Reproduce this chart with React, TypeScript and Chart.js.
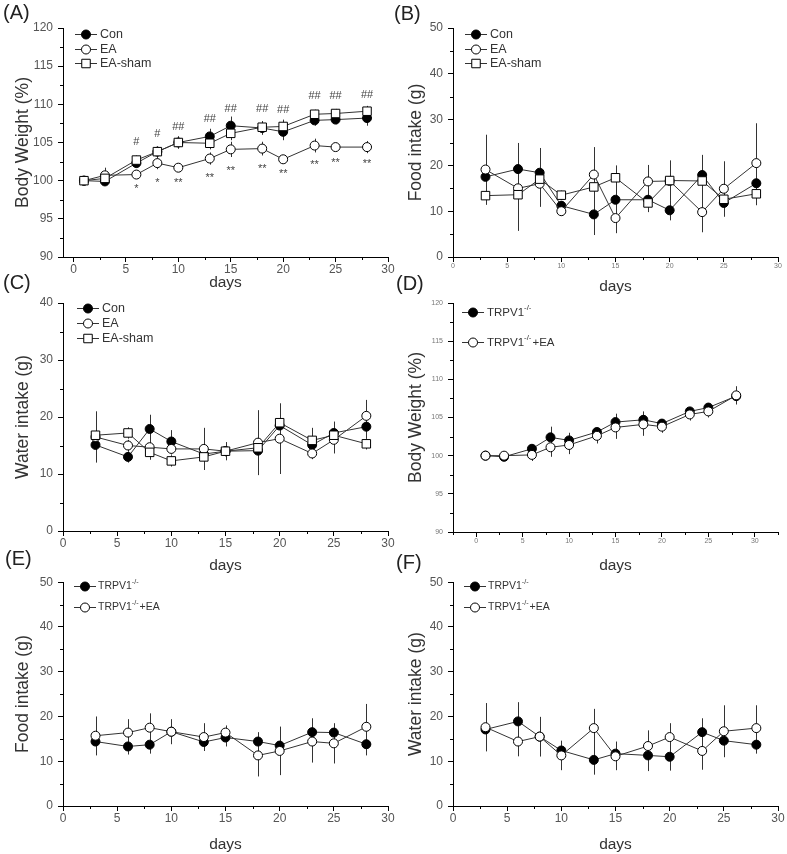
import React, { useEffect, useRef } from 'react';
import { Chart, registerables } from 'chart.js';
Chart.register(...registerables);

const FONT = '"Liberation Sans", Arial, Helvetica, sans-serif';

// ---------- data ----------
const daysBW = [1, 3, 6, 8, 10, 13, 15, 18, 20, 23, 25, 28];
const daysIntake = [3, 6, 8, 10, 13, 15, 18, 20, 23, 25, 28];
const xTicks30 = [0, 5, 10, 15, 20, 25, 30];
const yTicksBW = [90, 95, 100, 105, 110, 115, 120];
const yTicks50 = [0, 10, 20, 30, 40, 50];
const yTicks40 = [0, 10, 20, 30, 40];

// (A) body weight
const aCon = [100, 99.9, 102.3, 103.8, 105.0, 105.8, 107.2, 106.9, 106.4, 107.9, 108.0, 108.2];
const aConErr = [0, 0.4, 0.6, 0.6, 0.8, 1.0, 1.2, 0.9, 1.1, 0.7, 0.6, 1.0];
const aEA = [100, 100.7, 100.8, 102.3, 101.7, 102.9, 104.1, 104.2, 102.8, 104.6, 104.4, 104.4];
const aEAErr = [0, 1.0, 0.5, 0.8, 0.5, 0.8, 1.0, 0.9, 0.4, 0.9, 0.5, 0.8];
const aSham = [100, 100.3, 102.7, 103.8, 105.0, 104.9, 106.2, 107.0, 107.1, 108.7, 108.8, 109.1];
const aShamErr = [0, 0.5, 0.6, 0.7, 0.8, 0.8, 0.9, 0.8, 0.9, 0.6, 0.6, 0.7];
const aHashDays = [6, 8, 10, 13, 15, 18, 20, 23, 25, 28];
const aHashText = ['#', '#', '##', '##', '##', '##', '##', '##', '##', '##'];
const aHashY = [105.1, 106.1, 107.1, 108.05, 109.4, 109.4, 109.2, 111.1, 111.1, 111.2];
const aStarDays = [6, 8, 10, 13, 15, 18, 20, 23, 25, 28];
const aStarText = ['*', '*', '**', '**', '**', '**', '**', '**', '**', '**'];
const aStarY = [99.3, 100.1, 100.1, 100.7, 101.7, 101.9, 101.3, 102.5, 102.7, 102.6];

// (B) food intake
const bCon = [17.5, 19.2, 18.4, 11.2, 9.3, 12.5, 12.5, 10.2, 17.9, 11.8, 16.1];
const bConErr = [2, 5.7, 5.4, 1, 4.5, 3, 2, 2.2, 4.4, 3, 2];
const bEA = [19.1, 15.0, 16.0, 10.0, 18.0, 8.5, 16.5, 16.6, 9.8, 14.9, 20.5];
const bEAErr = [7.6, 9.3, 5, 1, 6, 3.3, 3.6, 2, 4.4, 6, 8.7];
const bSham = [13.4, 13.6, 17.0, 13.5, 15.3, 17.3, 11.8, 16.7, 16.6, 12.6, 13.8];
const bShamErr = [2, 2, 6, 1, 3, 2.7, 2, 4.4, 2, 2, 2.5];

// (C) water intake
const cCon = [15.1, 13.0, 17.9, 15.7, 13.5, 14.0, 14.1, 18.5, 15.1, 17.2, 18.3];
const cConErr = [3, 1, 2.5, 2, 1, 1.5, 1, 3.8, 1, 2, 2];
const cEA = [16.5, 15.0, 14.7, 14.4, 14.4, 14.0, 15.5, 16.2, 13.6, 16.0, 20.2];
const cEAErr = [4.5, 1, 1.5, 1, 3.7, 1.6, 5.7, 6.2, 1, 2.4, 2.8];
const cSham = [16.8, 17.2, 13.8, 12.3, 13.0, 14.0, 14.6, 19.0, 15.9, 16.8, 15.3];
const cShamErr = [1, 1, 1.3, 1, 2.3, 1, 1, 1, 2.2, 1, 1];

// (D) TRPV1 body weight
const dKO = [100, 99.85, 100.9, 102.4, 102.0, 103.1, 104.4, 104.7, 104.2, 105.8, 106.3, 107.8];
const dKOErr = [0, 0.3, 0.4, 1.4, 1.0, 0.5, 1.1, 1.1, 0.5, 0.5, 0.5, 1.0];
const dKOEA = [100, 100, 100.1, 101.1, 101.4, 102.6, 103.7, 104.1, 103.8, 105.4, 105.8, 107.9];
const dKOEAErr = [0, 0.2, 0.8, 1.25, 1.2, 1.0, 1.5, 1.5, 0.8, 0.8, 0.8, 1.2];

// (E) TRPV1 food intake
const eKO = [14.4, 13.3, 13.7, 16.6, 14.3, 15.3, 14.4, 13.5, 16.5, 16.4, 13.8];
const eKOErr = [3.1, 1.8, 2, 1.2, 2, 2, 2.1, 4.2, 3.1, 1.9, 2.5];
const eKOEA = [15.7, 16.4, 17.5, 16.6, 15.4, 16.4, 11.3, 12.3, 14.4, 14.0, 17.7];
const eKOEAErr = [4.3, 3, 3.2, 2.8, 3.1, 1.6, 4.7, 5.4, 4.7, 4.5, 5.1];

// (F) TRPV1 water intake
const fKO = [17.1, 18.9, 15.5, 12.4, 10.3, 11.7, 11.3, 11.0, 16.5, 14.6, 13.7];
const fKOErr = [2, 4.3, 4.4, 2.1, 3.3, 2.7, 3.5, 3.1, 3.1, 3.6, 2];
const fKOEA = [17.6, 14.4, 15.5, 11.3, 17.4, 11.1, 13.4, 15.4, 12.3, 16.7, 17.4];
const fKOEAErr = [5.4, 3.3, 4.4, 3.3, 4.3, 3.1, 3.5, 3.1, 4.2, 5.8, 5.1];

const labCon = 'Con';
const labEA = 'EA';
const labSham = 'EA-sham';
const labKO = 'TRPV1^{-/-}';
const labKOEA = 'TRPV1^{-/-}+EA';

// ---------- types ----------
type MStyle = 'filled' | 'open' | 'square';
type Series = { label: string; values: number[]; errors: number[]; style: MStyle };
type Spec = {
  id: string;
  left: number; top: number; w: number; h: number;
  padTop: number; padRight: number; yWidth: number; xHeight: number;
  xMin: number; xMax: number; xTicks: number[]; xMinor: number; xMajor: number;
  yMin: number; yMax: number; yTicks: number[]; yMinor: number; yMajor: number;
  xTickFont: number; yTickFont: number; tickColor: string;
  yTitle: string; days: number[]; series: Series[];
  legend: { x0: number; x1: number; tx: number; rows: number[]; font: number };
  notes?: { x: number; y: number; text: string }[];
};

// ---------- plugins ----------
const errorBarPlugin = {
  id: 'errbars',
  beforeDatasetsDraw(chart: any) {
    const ctx = chart.ctx;
    const ys = chart.scales.y;
    ctx.save();
    ctx.strokeStyle = '#333';
    ctx.lineWidth = 1;
    chart.data.datasets.forEach((ds: any, i: number) => {
      const meta = chart.getDatasetMeta(i);
      meta.data.forEach((pt: any, j: number) => {
        const e = ds.errors ? ds.errors[j] : 0;
        if (!e) return;
        const v = ds.data[j].y;
        const x = Math.round(pt.x) + 0.5;
        ctx.beginPath();
        ctx.moveTo(x, ys.getPixelForValue(v - e));
        ctx.lineTo(x, ys.getPixelForValue(v + e));
        ctx.stroke();
      });
    });
    ctx.restore();
  },
};

const isMultiple = (v: number, m: number) => Math.abs(v / m - Math.round(v / m)) < 1e-6;

const minorTickPlugin = {
  id: 'minorTicks',
  afterDraw(chart: any, _args: any, opts: any) {
    const ctx = chart.ctx;
    const { left, bottom } = chart.chartArea;
    const xs = chart.scales.x;
    const ys = chart.scales.y;
    ctx.save();
    ctx.strokeStyle = '#000';
    ctx.lineWidth = 1;
    for (let v = Math.ceil(xs.min / opts.xMinor) * opts.xMinor; v <= xs.max + 1e-9; v += opts.xMinor) {
      if (isMultiple(v, opts.xMajor)) continue;
      const px = Math.round(xs.getPixelForValue(v)) + 0.5;
      ctx.beginPath();
      ctx.moveTo(px, bottom);
      ctx.lineTo(px, bottom + 3);
      ctx.stroke();
    }
    for (let v = Math.ceil(ys.min / opts.yMinor) * opts.yMinor; v <= ys.max + 1e-9; v += opts.yMinor) {
      if (isMultiple(v, opts.yMajor)) continue;
      const py = Math.round(ys.getPixelForValue(v)) + 0.5;
      ctx.beginPath();
      ctx.moveTo(left, py);
      ctx.lineTo(left - 3, py);
      ctx.stroke();
    }
    ctx.restore();
  },
};

function drawMarker(ctx: CanvasRenderingContext2D, s: MStyle, x: number, y: number) {
  ctx.beginPath();
  if (s === 'square') ctx.rect(x - 4.25, y - 4.25, 8.5, 8.5);
  else ctx.arc(x, y, 4.5, 0, Math.PI * 2);
  ctx.fillStyle = s === 'filled' ? '#000' : '#fff';
  ctx.fill();
  ctx.strokeStyle = '#000';
  ctx.lineWidth = 1;
  ctx.stroke();
}

function drawRichText(ctx: CanvasRenderingContext2D, text: string, x: number, y: number, size: number) {
  const parts = text.split(/\^\{([^}]*)\}/);
  let cx = x;
  parts.forEach((part, k) => {
    if (!part) return;
    const sup = k % 2 === 1;
    const fs = sup ? size * 0.68 : size;
    ctx.font = `${fs}px ${FONT}`;
    ctx.fillText(part, cx, sup ? y - size * 0.38 : y);
    cx += ctx.measureText(part).width + (sup ? 1 : 0);
  });
}

const legendPlugin = {
  id: 'innerLegend',
  afterDraw(chart: any, _args: any, opts: any) {
    const ctx = chart.ctx;
    ctx.save();
    chart.data.datasets.forEach((ds: any, i: number) => {
      const y = opts.rows[i];
      ctx.strokeStyle = '#333';
      ctx.lineWidth = 1;
      ctx.beginPath();
      ctx.moveTo(opts.x0, y + 0.5);
      ctx.lineTo(opts.x1, y + 0.5);
      ctx.stroke();
      drawMarker(ctx, ds.markerStyle, (opts.x0 + opts.x1) / 2, y + 0.5);
      ctx.fillStyle = '#333';
      ctx.textBaseline = 'middle';
      ctx.textAlign = 'left';
      drawRichText(ctx, ds.label, opts.tx, y + 0.5, opts.font);
    });
    ctx.restore();
  },
};

const notesPlugin = {
  id: 'notes',
  afterDatasetsDraw(chart: any, _args: any, opts: any) {
    if (!opts || !opts.items) return;
    const ctx = chart.ctx;
    const xs = chart.scales.x;
    const ys = chart.scales.y;
    ctx.save();
    ctx.fillStyle = '#444';
    ctx.font = `11px ${FONT}`;
    ctx.textAlign = 'center';
    ctx.textBaseline = 'middle';
    opts.items.forEach((it: any) => {
      const star = it.text.indexOf('*') >= 0;
      ctx.fillText(it.text, xs.getPixelForValue(it.x), ys.getPixelForValue(it.y) + (star ? 3 : 0));
    });
    ctx.restore();
  },
};

// ---------- config ----------
function styleFor(s: MStyle) {
  if (s === 'filled') return { pointStyle: 'circle', pointRadius: 4.5, pointBackgroundColor: '#000' };
  if (s === 'open') return { pointStyle: 'circle', pointRadius: 4.5, pointBackgroundColor: '#fff' };
  return { pointStyle: 'rect', pointRadius: 6, pointBackgroundColor: '#fff' };
}

function buildConfig(p: Spec): any {
  const n = p.series.length;
  const datasets = p.series.map((s, i) => ({
    label: s.label,
    data: p.days.map((d, j) => ({ x: d, y: s.values[j] })),
    errors: s.errors,
    markerStyle: s.style,
    borderColor: '#333',
    borderWidth: 1,
    pointBorderColor: '#000',
    pointBorderWidth: 1,
    ...styleFor(s.style),
    order: n - 1 - i,
    tension: 0,
    fill: false,
    clip: false,
  }));
  const axisGrid = { display: true, drawOnChartArea: false, drawTicks: true, tickLength: 5, color: '#000', tickColor: '#000', lineWidth: 1 };
  return {
    type: 'line',
    data: { datasets },
    options: {
      responsive: false,
      animation: false,
      devicePixelRatio: 1,
      events: [],
      layout: { padding: { left: 0, right: p.padRight, top: p.padTop, bottom: 0 } },
      scales: {
        x: {
          type: 'linear',
          min: p.xMin,
          max: p.xMax,
          afterBuildTicks: (s: any) => { s.ticks = p.xTicks.map((v) => ({ value: v })); },
          afterFit: (s: any) => { s.height = p.xHeight; },
          grid: axisGrid,
          border: { display: true, color: '#000', width: 1 },
          ticks: { font: { family: FONT, size: p.xTickFont }, color: p.xTickFont < 9 ? '#777' : p.tickColor, padding: 0, maxRotation: 0, autoSkip: false },
          title: { display: true, text: 'days', font: { family: FONT, size: 15.5 }, color: '#333', padding: { top: 0, bottom: 0 } },
        },
        y: {
          type: 'linear',
          min: p.yMin,
          max: p.yMax,
          afterBuildTicks: (s: any) => { s.ticks = p.yTicks.map((v) => ({ value: v })); },
          afterFit: (s: any) => { s.width = p.yWidth; },
          grid: axisGrid,
          border: { display: true, color: '#000', width: 1 },
          ticks: { font: { family: FONT, size: p.yTickFont }, color: p.yTickFont < 9 ? '#777' : p.tickColor, padding: 5, autoSkip: false },
          title: { display: true, text: p.yTitle, font: { family: FONT, size: 17.5 }, color: '#333', padding: { top: 13, bottom: 0 } },
        },
      },
      plugins: {
        legend: { display: false },
        tooltip: { enabled: false },
        minorTicks: { xMinor: p.xMinor, xMajor: p.xMajor, yMinor: p.yMinor, yMajor: p.yMajor },
        innerLegend: p.legend,
        notes: { items: p.notes || [] },
      },
    },
    plugins: [errorBarPlugin, minorTickPlugin, legendPlugin, notesPlugin],
  };
}

// ---------- panel specs ----------
const notesA = [
  ...aHashDays.map((d, i) => ({ x: d, y: aHashY[i], text: aHashText[i] })),
  ...aStarDays.map((d, i) => ({ x: d, y: aStarY[i], text: aStarText[i] })),
];

const specs: Spec[] = [
  {
    id: 'A', left: 0, top: 0, w: 395, h: 292, padTop: 28, padRight: 7, yWidth: 63, xHeight: 35,
    xMin: -1, xMax: 30, xTicks: xTicks30, xMinor: 2.5, xMajor: 5,
    yMin: 90, yMax: 120, yTicks: yTicksBW, yMinor: 2.5, yMajor: 5,
    xTickFont: 12, yTickFont: 12, tickColor: '#555',
    yTitle: 'Body Weight (%)', days: daysBW,
    series: [
      { label: labCon, values: aCon, errors: aConErr, style: 'filled' },
      { label: labEA, values: aEA, errors: aEAErr, style: 'open' },
      { label: labSham, values: aSham, errors: aShamErr, style: 'square' },
    ],
    legend: { x0: 75, x1: 97, tx: 100, rows: [34, 49, 63], font: 12.5 },
    notes: notesA,
  },
  {
    id: 'B', left: 393, top: 0, w: 394, h: 296, padTop: 28, padRight: 9, yWidth: 60, xHeight: 39,
    xMin: 0, xMax: 30, xTicks: xTicks30, xMinor: 2.5, xMajor: 5,
    yMin: 0, yMax: 50, yTicks: yTicks50, yMinor: 5, yMajor: 10,
    xTickFont: 7, yTickFont: 12, tickColor: '#555',
    yTitle: 'Food intake (g)', days: daysIntake,
    series: [
      { label: labCon, values: bCon, errors: bConErr, style: 'filled' },
      { label: labEA, values: bEA, errors: bEAErr, style: 'open' },
      { label: labSham, values: bSham, errors: bShamErr, style: 'square' },
    ],
    legend: { x0: 72, x1: 94, tx: 97, rows: [34, 49, 63], font: 12.5 },
  },
  {
    id: 'C', left: 0, top: 285, w: 395, h: 290, padTop: 18, padRight: 7, yWidth: 63, xHeight: 44,
    xMin: 0, xMax: 30, xTicks: xTicks30, xMinor: 2.5, xMajor: 5,
    yMin: 0, yMax: 40, yTicks: yTicks40, yMinor: 5, yMajor: 10,
    xTickFont: 12, yTickFont: 12, tickColor: '#555',
    yTitle: 'Water intake (g)', days: daysIntake,
    series: [
      { label: labCon, values: cCon, errors: cConErr, style: 'filled' },
      { label: labEA, values: cEA, errors: cEAErr, style: 'open' },
      { label: labSham, values: cSham, errors: cShamErr, style: 'square' },
    ],
    legend: { x0: 77, x1: 99, tx: 102, rows: [23, 38, 53], font: 12.5 },
  },
  {
    id: 'D', left: 393, top: 285, w: 394, h: 290, padTop: 18, padRight: 9, yWidth: 60, xHeight: 43,
    xMin: -2.5, xMax: 32.5, xTicks: xTicks30, xMinor: 2.5, xMajor: 5,
    yMin: 90, yMax: 120, yTicks: yTicksBW, yMinor: 2.5, yMajor: 5,
    xTickFont: 7, yTickFont: 7, tickColor: '#555',
    yTitle: 'Body Weight (%)', days: daysBW,
    series: [
      { label: labKO, values: dKO, errors: dKOErr, style: 'filled' },
      { label: labKOEA, values: dKOEA, errors: dKOEAErr, style: 'open' },
    ],
    legend: { x0: 69, x1: 91, tx: 94, rows: [27, 57], font: 11.5 },
  },
  {
    id: 'E', left: 0, top: 570, w: 395, h: 284, padTop: 7, padRight: 7, yWidth: 63, xHeight: 48,
    xMin: 0, xMax: 30, xTicks: xTicks30, xMinor: 2.5, xMajor: 5,
    yMin: 0, yMax: 50, yTicks: yTicks50, yMinor: 5, yMajor: 10,
    xTickFont: 12, yTickFont: 12, tickColor: '#555',
    yTitle: 'Food intake (g)', days: daysIntake,
    series: [
      { label: labKO, values: eKO, errors: eKOErr, style: 'filled' },
      { label: labKOEA, values: eKOEA, errors: eKOEAErr, style: 'open' },
    ],
    legend: { x0: 74, x1: 96, tx: 98, rows: [16, 37], font: 10.5 },
  },
  {
    id: 'F', left: 393, top: 570, w: 394, h: 284, padTop: 7, padRight: 9, yWidth: 60, xHeight: 48,
    xMin: 0, xMax: 30, xTicks: xTicks30, xMinor: 2.5, xMajor: 5,
    yMin: 0, yMax: 50, yTicks: yTicks50, yMinor: 5, yMajor: 10,
    xTickFont: 12, yTickFont: 12, tickColor: '#555',
    yTitle: 'Water intake (g)', days: daysIntake,
    series: [
      { label: labKO, values: fKO, errors: fKOErr, style: 'filled' },
      { label: labKOEA, values: fKOEA, errors: fKOEAErr, style: 'open' },
    ],
    legend: { x0: 71, x1: 93, tx: 95, rows: [16, 37], font: 10.5 },
  },
];

const panelLabels = [
  { text: '(A)', left: 3, top: 1 },
  { text: '(B)', left: 394, top: 2 },
  { text: '(C)', left: 3, top: 271 },
  { text: '(D)', left: 396, top: 272 },
  { text: '(E)', left: 5, top: 547 },
  { text: '(F)', left: 396, top: 551 },
];

function Panel({ spec }: { spec: Spec }) {
  const ref = useRef<HTMLCanvasElement>(null);
  useEffect(() => {
    const chart = new Chart(ref.current as HTMLCanvasElement, buildConfig(spec));
    return () => chart.destroy();
  }, [spec]);
  return (
    <canvas
      ref={ref}
      width={spec.w}
      height={spec.h}
      style={{ position: 'absolute', left: spec.left, top: spec.top, width: spec.w, height: spec.h }}
    />
  );
}

export default function App() {
  return (
    <div style={{ position: 'absolute', left: 0, top: 0, width: 787, height: 854, background: '#fff', overflow: 'hidden' }}>
      {specs.map((s) => (
        <Panel key={s.id} spec={s} />
      ))}
      {panelLabels.map((l) => (
        <div
          key={l.text}
          style={{ position: 'absolute', left: l.left, top: l.top, fontFamily: FONT, fontSize: 20, lineHeight: '23px', color: '#222' }}
        >
          {l.text}
        </div>
      ))}
    </div>
  );
}
